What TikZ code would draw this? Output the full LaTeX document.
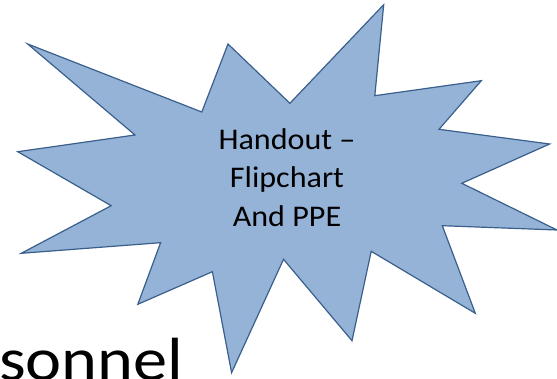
\documentclass[tikz,border=0pt]{standalone}
\usepackage{fontspec}
\setmainfont{Carlito}
\definecolor{burstfill}{HTML}{95B3D7}
\definecolor{burstline}{HTML}{3A5F8C}

\begin{document}
\begin{tikzpicture}[x=1pt,y=-1pt]
\tikzset{BurstStyle/.style = {draw=burstline,fill=burstfill,
                              line width=1.2pt,line join=miter},
         LabelStyle/.style = {align=center,inner sep=0pt,
                              font=\fontsize{30}{38.3}\selectfont}}
\useasboundingbox (0,0) rectangle (557,379);
\node[anchor=base west,inner sep=0pt,font=\fontsize{61}{61}\selectfont] (sonnel) at (-1,381) {\scalebox{1.12}[1]{sonnel}};
\draw[BurstStyle] (27.7,44) -- (201.8,112) -- (228,44) -- (289.9,103.3)
  -- (383.7,4.7) -- (374.8,95.7) -- (481.3,80.7) -- (439,129.3)
  -- (549.6,144) -- (461.8,183.3) -- (557,230) -- (442.3,225.7)
  -- (475.3,313.3) -- (371.2,251.3) -- (352,340.7) -- (283.5,259.3)
  -- (231.6,372.7) -- (212.4,271.7) -- (137.8,304.3) -- (160.6,242.7)
  -- (21.3,253.3) -- (111.2,205.7) -- (17.8,151.7) -- (135,135) -- cycle;
\node[LabelStyle] (handout) at (287,177.5) {\scalebox{1.07}[1]{Handout --}\\\scalebox{1.07}[1]{Flipchart}\\\scalebox{1.07}[1]{And PPE}};
\end{tikzpicture}
\end{document}
